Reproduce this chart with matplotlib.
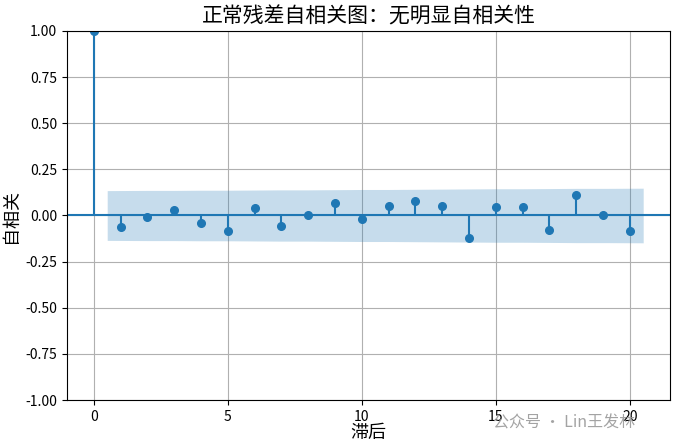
import matplotlib.pyplot as plt
import numpy as np

plt.rcParams['font.family'] = ['Noto Sans CJK SC', 'DejaVu Sans']
plt.rcParams['axes.unicode_minus'] = False

lags = np.arange(0, 21)
acf = [1.0, -0.065, -0.01, 0.03, -0.04, -0.085, 0.04, -0.055, 0.0, 0.07, -0.02,
       0.05, 0.08, 0.05, -0.12, 0.045, 0.045, -0.08, 0.11, 0.0, -0.085]
band = [0.135, 0.136, 0.136, 0.137, 0.137, 0.138, 0.139, 0.139, 0.140, 0.141,
        0.141, 0.142, 0.143, 0.144, 0.145, 0.145, 0.146, 0.147, 0.147, 0.148]

fig = plt.figure(figsize=(6.74, 4.48), dpi=100)
ax = fig.add_axes([67/674, 48/448, 603/674, 369/448])

ax.vlines(lags, 0, acf, color='C0', lw=1.5)
ax.plot(lags, acf, 'o', color='C0', ms=5.5)
ax.axhline(0, color='C0', lw=1.5)

bx = lags[1:].astype(float)
bx[0] -= 0.5
bx[-1] += 0.5
b = np.array(band)
ax.fill_between(bx, -b, b, color='C0', alpha=0.25, lw=0)

ax.set_xlim(-1, 21.5)
ax.set_ylim(-1, 1)
ax.set_yticks(np.arange(-1, 1.01, 0.25))
ax.set_yticklabels([f'{v:.2f}' for v in np.arange(-1, 1.01, 0.25)])
ax.set_xticks([0, 5, 10, 15, 20])
ax.grid(True)
ax.set_axisbelow(True)
ax.set_title('正常残差自相关图：无明显自相关性', fontsize=15)
ax.set_xlabel('滞后', fontsize=13, labelpad=0)
ax.set_ylabel('自相关', fontsize=13)

fig.text(0.732, 0.045, '公众号 · Lin王发林', fontsize=11.5, color='#999999', alpha=0.9)

fig.savefig('out.png', dpi=100)
